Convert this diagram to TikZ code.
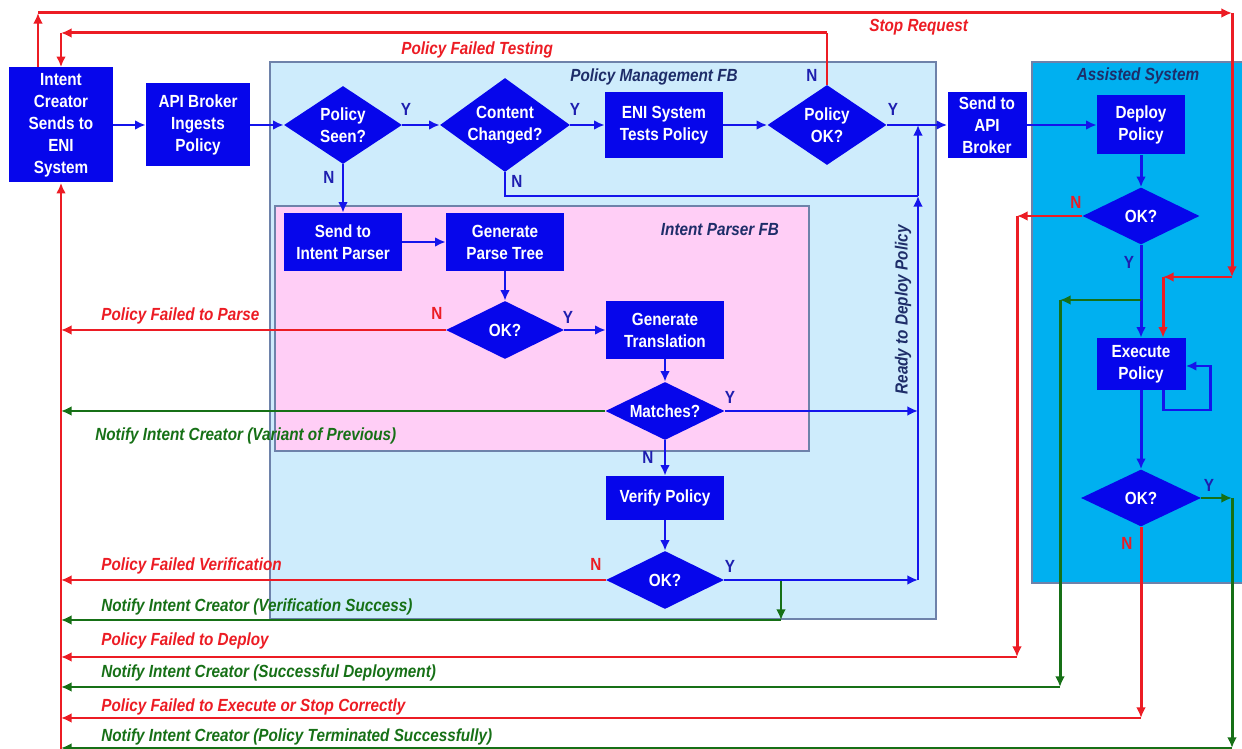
\documentclass[tikz,border=0pt]{standalone}
\usepackage{fontspec}
\setmainfont{Liberation Sans}[FakeStretch=0.87]
\usepackage{tikz}
\usetikzlibrary{arrows.meta,shapes.geometric}
\definecolor{boxblue}{RGB}{6,6,235}
\definecolor{lineblue}{RGB}{20,20,235}
\definecolor{flowred}{RGB}{236,28,36}
\definecolor{flowgreen}{RGB}{22,112,22}
\definecolor{mgmtbg}{RGB}{206,236,252}
\definecolor{parserbg}{RGB}{255,206,246}
\definecolor{assistbg}{RGB}{0,176,240}
\definecolor{framegray}{RGB}{110,130,170}
\definecolor{titlenavy}{RGB}{30,45,105}
\definecolor{ynblue}{RGB}{30,30,175}

\begin{document}
\begin{tikzpicture}[x=0.02cm,y=-0.02cm,
  sz/.style 2 args={minimum width=#1*0.02cm,minimum height=#2*0.02cm},
  blk/.style={rectangle,fill=boxblue,text=white,align=center,inner sep=0pt,font=\fontsize{10}{12.5}\selectfont\bfseries},
  dcs/.style={diamond,fill=boxblue,text=white,align=center,inner sep=-6pt,font=\fontsize{10}{12.5}\selectfont\bfseries},
  bl/.style={draw=lineblue,line width=1.7pt,-{Latex[length=6pt,width=5.5pt]}},
  rd/.style={bl,draw=flowred},
  gn/.style={bl,draw=flowgreen},
  lbl/.style={anchor=west,inner sep=0pt,font=\fontsize{10}{12}\selectfont\bfseries\itshape},
  ttl/.style={inner sep=0pt,text=titlenavy,font=\fontsize{10}{12}\selectfont\bfseries\itshape},
  ylab/.style={inner sep=0pt,text=ynblue,font=\fontsize{10}{12}\selectfont\bfseries},
  nred/.style={ylab,text=flowred}]
  \useasboundingbox (0,0) rectangle (1242,749);
  \filldraw[fill=mgmtbg,draw=framegray,line width=0.6pt] (270,62) rectangle (936,619);
  \filldraw[fill=parserbg,draw=framegray,line width=0.6pt] (275,206) rectangle (809,451);
  \filldraw[fill=assistbg,draw=framegray,line width=0.6pt] (1032,62) rectangle (1243,583);
  \node[ttl] (tmgmt) at (654,77) {Policy Management FB};
  \node[ttl] (tparser) at (720,230) {Intent Parser FB};
  \node[ttl] (tassist) at (1138,76) {Assisted System};
  \node[ttl,rotate=90] (tready) at (903,310) {Ready to Deploy Policy};

  \node[blk,sz={104}{115}] (ic) at (61,125) {Intent\\Creator\\Sends to\\ENI\\System};
  \node[blk,sz={104}{83}] (api) at (198,125) {API Broker\\Ingests\\Policy};
  \node[dcs,sz={118}{78}] (seen) at (343,125) {Policy\\Seen?};
  \node[dcs,sz={130}{94}] (chg) at (505,125) {Content\\Changed?};
  \node[blk,sz={118}{66}] (test) at (664,125) {ENI System\\Tests Policy};
  \node[dcs,sz={119}{80}] (pok) at (827,125) {Policy\\OK?};
  \node[blk,sz={79}{66}] (sapi) at (987,125) {Send to\\API\\Broker};
  \node[blk,sz={88}{59}] (dep) at (1141,125) {Deploy\\Policy};
  \node[dcs,sz={117}{57}] (dok) at (1141,216) {OK?};
  \node[blk,sz={89}{52}] (exe) at (1141,364) {Execute\\Policy};
  \node[dcs,sz={120}{57}] (xok) at (1141,498) {OK?};
  \node[blk,sz={118}{58}] (sip) at (343,242) {Send to\\Intent Parser};
  \node[blk,sz={118}{58}] (gpt) at (505,242) {Generate\\Parse Tree};
  \node[dcs,sz={118}{58}] (pok2) at (505,330) {OK?};
  \node[blk,sz={118}{58}] (gtr) at (665,330) {Generate\\Translation};
  \node[dcs,sz={119}{58}] (mat) at (665,411) {Matches?};
  \node[blk,sz={118}{44}] (ver) at (665,498) {Verify Policy};
  \node[dcs,sz={118}{58}] (vok) at (665,580) {OK?};

  \coordinate (c1) at (505,196);
  \coordinate (rdy) at (918,196);
  \coordinate (rtop) at (918,125);
  \coordinate (rbot) at (918,580);
  \coordinate (s1) at (38,13);
  \coordinate (s2) at (1232,13);
  \coordinate (s3) at (1232,277);
  \coordinate (s4) at (1163,277);
  \coordinate (t1) at (827,33);
  \coordinate (t2) at (61,33);
  \coordinate (g1) at (1141,300);
  \coordinate (g2) at (1060,300);
  \coordinate (g3) at (1060,687);
  \coordinate (f1) at (1017,216);
  \coordinate (f2) at (1017,657);
  \coordinate (e1) at (1141,718);
  \coordinate (k1) at (1232,498);
  \coordinate (k2) at (1232,748);
  \coordinate (l1) at (1163,410);
  \coordinate (l2) at (1210,410);
  \coordinate (l3) at (1210,366);
  \coordinate (v1) at (781,580);
  \coordinate (v2) at (781,620);
  \coordinate (bb) at (61,749);

  \draw[bl] (ic) -- (api);
  \draw[bl] (api) -- (seen);
  \draw[bl] (seen) -- (chg);
  \draw[bl] (chg) -- (test);
  \draw[bl] (test) -- (pok);
  \draw[bl] (pok) -- (sapi);
  \draw[bl] (sapi) -- (dep);
  \draw[bl,-] (chg.south) -- (c1) -- (rdy);
  \draw[bl] (rdy) -- (rtop);
  \draw[bl] (rbot) -- (rdy);
  \draw[bl] (seen) -- (sip);
  \draw[bl] (sip) -- (gpt);
  \draw[bl] (gpt) -- (pok2);
  \draw[bl] (pok2) -- (gtr);
  \draw[bl] (gtr) -- (mat);
  \draw[bl] (mat) -- (ver);
  \draw[bl] (ver) -- (vok);
  \draw[bl] (mat) -- (mat -| rbot);
  \draw[gn] (v1) -- (v2);
  \draw[gn] (v2) -- (v2 -| ic.south);
  \draw[bl] (vok) -- (rbot);
  \draw[rd] (pok2) -- (pok2 -| ic.south);
  \draw[gn] (mat) -- (mat -| ic.south);
  \draw[rd] (vok) -- (vok -| ic.south);

  \draw[rd,-] (pok.north) -- (t1);
  \draw[rd] (t1) -- (t2);
  \draw[rd] (t2) -- (ic.north);
  \draw[rd] (s1 |- ic.north) -- (s1);
  \draw[rd] (s1) -- (s2);
  \draw[rd] (s2) -- (s3);
  \draw[rd] (s3) -- (s4);
  \draw[rd] (s4) -- (s4 |- exe.north);

  \draw[bl] (dep) -- (dok);
  \draw[bl] (dok) -- (exe);
  \draw[bl] (exe) -- (xok);
  \draw[bl] (l1 |- exe.south) -- (l1) -- (l2) -- (l3) -- (l3 -| exe.east);
  \draw[gn] (g1) -- (g2);
  \draw[gn] (g2) -- (g3);
  \draw[gn] (g3) -- (g3 -| ic.south);
  \draw[rd] (dok) -- (f1);
  \draw[rd] (f1) -- (f2);
  \draw[rd] (f2) -- (f2 -| ic.south);
  \draw[rd] (xok) -- (e1);
  \draw[rd] (e1) -- (e1 -| ic.south);
  \draw[gn] (xok) -- (k1);
  \draw[gn] (k1) -- (k2);
  \draw[gn] (k2) -- (k2 -| ic.south);
  \draw[rd] (bb) -- (ic.south);

  \node[lbl,text=flowred] (lftest) at (401,50) {Policy Failed Testing};
  \node[lbl,text=flowred] (lstop) at (869,27) {Stop Request};
  \node[lbl,text=flowred] (lparse) at (101,316) {Policy Failed to Parse};
  \node[lbl,text=flowgreen] (lvar) at (95,436) {Notify Intent Creator (Variant of Previous)};
  \node[lbl,text=flowred] (lverif) at (101,566) {Policy Failed Verification};
  \node[lbl,text=flowgreen] (lvsucc) at (101,607) {Notify Intent Creator (Verification Success)};
  \node[lbl,text=flowred] (ldeploy) at (101,641) {Policy Failed to Deploy};
  \node[lbl,text=flowgreen] (ldsucc) at (101,673) {Notify Intent Creator (Successful Deployment)};
  \node[lbl,text=flowred] (lexec) at (101,707) {Policy Failed to Execute or Stop Correctly};
  \node[lbl,text=flowgreen] (lterm) at (101,737) {Notify Intent Creator (Policy Terminated Successfully)};

  \node[ylab] (ys1) at (406,109) {Y};
  \node[ylab] (ns1) at (329,177) {N};
  \node[ylab] (yc1) at (575,109) {Y};
  \node[ylab] (nc1) at (517,181) {N};
  \node[ylab] (np1) at (812,75) {N};
  \node[ylab] (yp1) at (893,109) {Y};
  \node[nred] (no2) at (437,313) {N};
  \node[ylab] (yo2) at (568,317) {Y};
  \node[ylab] (ym1) at (730,397) {Y};
  \node[ylab] (nm1) at (648,457) {N};
  \node[nred] (nv1) at (596,564) {N};
  \node[ylab] (yv1) at (730,566) {Y};
  \node[nred] (nd1) at (1076,202) {N};
  \node[ylab] (yd1) at (1129,262) {Y};
  \node[ylab] (yx1) at (1209,485) {Y};
  \node[nred] (nx1) at (1127,543) {N};
\end{tikzpicture}
\end{document}
